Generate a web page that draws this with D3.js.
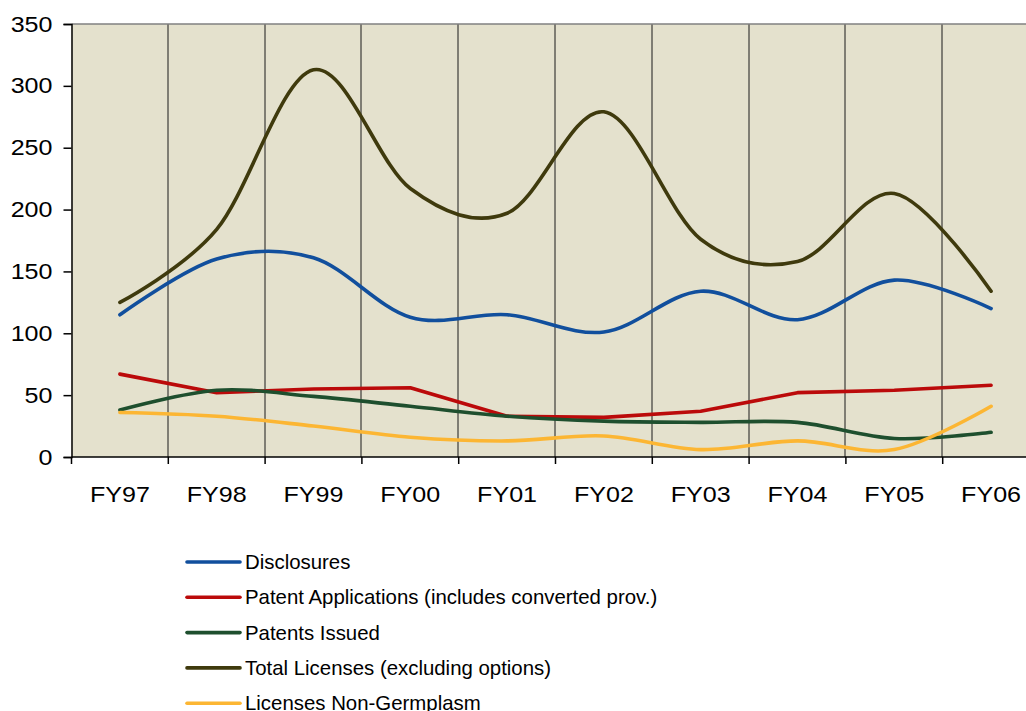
<!DOCTYPE html>
<html>
<head>
<meta charset="utf-8">
<script src="https://cdn.jsdelivr.net/npm/d3@7"></script>
<style>
  html, body { margin: 0; padding: 0; background: #fff; }
  svg { display: block; font-family: "Liberation Sans", Arial, sans-serif; }
</style>
</head>
<body>
<div id="chart"></div>
<script>
// Data
const years = ["FY97", "FY98", "FY99", "FY00", "FY01", "FY02", "FY03", "FY04", "FY05", "FY06"];
const disclosures = [115, 160, 161, 113, 115, 101, 134, 111, 143, 120];
const patentApplications = [67, 52, 55, 56, 33, 32, 37, 52, 54, 58];
const patentsIssued = [38, 54, 49, 41, 33, 29, 28, 28, 15, 20];
const totalLicenses = [125, 184, 313, 217, 197, 279, 176, 158, 213, 134];
const nonGermplasm = [36, 33, 25, 16, 13, 17, 6, 13, 6, 41];
const yTicks = [0, 50, 100, 150, 200, 250, 300, 350];

const series = [
  { name: "Disclosures", values: disclosures, color: "#114f9d", smooth: true },
  { name: "Patent Applications (includes converted prov.)", values: patentApplications, color: "#bb0a0a", smooth: false },
  { name: "Patents Issued", values: patentsIssued, color: "#1e4f2e", smooth: true },
  { name: "Total Licenses (excluding options)", values: totalLicenses, color: "#3f3a0d", smooth: true },
  { name: "Licenses Non-Germplasm", values: nonGermplasm, color: "#fcb633", smooth: true }
];

// Layout
const width = 1026, height = 711;
const margin = { left: 71.5, top: 24 };
const plotW = 968, plotH = 433;
const stretch = 1.14; // axis labels look horizontally stretched

const svg = d3.select("#chart").append("svg")
  .attr("width", width)
  .attr("height", height);

const g = svg.append("g").attr("transform", `translate(${margin.left},${margin.top})`);

// Scales
const x = d3.scaleBand().domain(years).range([0, plotW]).padding(0);
const y = d3.scaleLinear().domain([0, 350]).range([plotH, 0]);
const cx = d => x(d) + x.bandwidth() / 2;

// Plot background
g.append("rect")
  .attr("width", plotW)
  .attr("height", plotH)
  .attr("fill", "#e4e1cd");

// Vertical gridlines at category boundaries
g.append("g").selectAll("line")
  .data(years.slice(1))
  .join("line")
  .attr("x1", d => Math.round(x(d)) - 0.5).attr("x2", d => Math.round(x(d)) - 0.5)
  .attr("y1", 0).attr("y2", plotH)
  .attr("stroke", "#1a1a1a")
  .attr("stroke-width", 1);

// Top border
g.append("line")
  .attr("x1", 0).attr("x2", plotW)
  .attr("y1", 0).attr("y2", 0)
  .attr("stroke", "#808080")
  .attr("stroke-width", 1.5);

// Y axis
const yAxis = g.append("g")
  .call(d3.axisLeft(y).tickValues(yTicks).tickSize(8).tickPadding(11).tickFormat(d3.format("d")));
yAxis.select(".domain").attr("stroke", "#000").attr("stroke-width", 1.5);
yAxis.selectAll(".tick line").attr("stroke", "#000").attr("stroke-width", 1.5);
yAxis.selectAll(".tick text")
  .attr("fill", "#000")
  .style("font-size", "22px")
  .style("font-family", "'Liberation Sans', Arial, sans-serif");

// X axis line and ticks at boundaries
g.append("line")
  .attr("x1", 0).attr("x2", plotW)
  .attr("y1", plotH).attr("y2", plotH)
  .attr("stroke", "#000")
  .attr("stroke-width", 1.5);

g.append("g").selectAll("line")
  .data(d3.range(years.length + 1))
  .join("line")
  .attr("x1", i => i * x.step()).attr("x2", i => i * x.step())
  .attr("y1", plotH).attr("y2", plotH + 7)
  .attr("stroke", "#000")
  .attr("stroke-width", 1.5);

g.append("g").selectAll("text")
  .data(years)
  .join("text")
  .attr("x", d => cx(d))
  .attr("y", plotH + 45)
  .attr("text-anchor", "middle")
  .style("font-size", "22px")
  .attr("fill", "#000")
  .text(d => d);

// stretch axis labels horizontally
svg.selectAll("text").each(function() {
  const len = this.getComputedTextLength();
  d3.select(this).attr("textLength", len * stretch).attr("lengthAdjust", "spacingAndGlyphs");
});

// Lines
const smoothLine = d3.line()
  .x((d, i) => cx(years[i]))
  .y(d => y(d))
  .curve(d3.curveCardinal.tension(0));

const straightLine = d3.line()
  .x((d, i) => cx(years[i]))
  .y(d => y(d));

g.append("g").selectAll("path")
  .data(series)
  .join("path")
  .attr("d", s => (s.smooth ? smoothLine : straightLine)(s.values))
  .attr("fill", "none")
  .attr("stroke", s => s.color)
  .attr("stroke-width", 3.6)
  .attr("stroke-linejoin", "round")
  .attr("stroke-linecap", "round");

// Legend
const legend = svg.append("g");
const legendItems = legend.selectAll("g")
  .data(series)
  .join("g")
  .attr("transform", (d, i) => `translate(187,${562 + i * 35.3})`);

legendItems.append("line")
  .attr("x1", 0).attr("x2", 53)
  .attr("stroke", d => d.color)
  .attr("stroke-width", 3.6)
  .attr("stroke-linecap", "round");

legendItems.append("text")
  .attr("x", 58)
  .attr("y", 7)
  .style("font-size", "20.4px")
  .attr("fill", "#000")
  .text(d => d.name);
</script>
</body>
</html>
